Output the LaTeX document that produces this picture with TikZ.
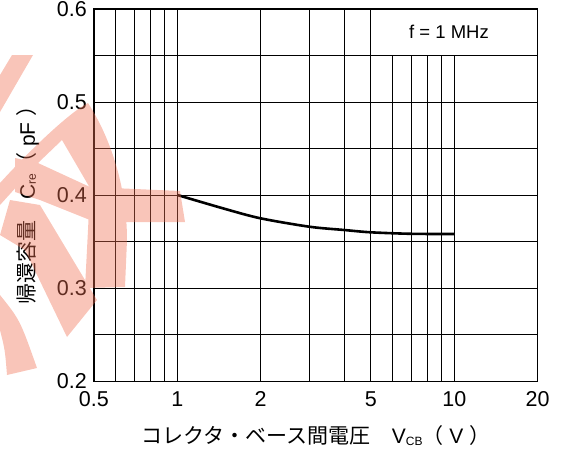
\documentclass[tikz,border=0pt]{standalone}
\usepackage{fontspec}
\setmainfont{Liberation Sans}
\newfontfamily\jpfont{Noto Sans CJK JP}
\definecolor{wmark}{RGB}{240,110,80}
% data -> picture (1 unit = 1px, y down)
\newcommand{\vx}[1]{177.3+277*log10(#1)}
\newcommand{\cy}[1]{381.5-931.25*(#1-0.2)}
\newcommand{\subs}[1]{\raisebox{-0.1ex}{\fontsize{12}{13}\selectfont #1}}

\begin{document}
\begin{tikzpicture}[x=1pt,y=-1pt,
    grid/.style={line width=0.9pt},
    frame/.style={line width=1.4pt},
    curve/.style={line width=2.6pt},
    tick/.style={font=\fontsize{21.5}{23}\selectfont,inner sep=0pt}]
  \useasboundingbox (0,0) rectangle (564,455);

  \foreach \v in {0.6,0.7,0.8,0.9,1,2,3,4,5}
    \draw[grid] ({\vx{\v}},{\cy{0.2}}) -- ({\vx{\v}},{\cy{0.6}});
  \foreach \v in {6,7,8,9,10}
    \draw[grid] ({\vx{\v}},{\cy{0.2}}) -- ({\vx{\v}},{\cy{0.55}});
  \foreach \c in {0.25,0.3,0.35,0.4,0.45,0.5,0.55}
    \draw[grid] ({\vx{0.5}},{\cy{\c}}) -- ({\vx{20}},{\cy{\c}});
  \draw[frame] ({\vx{0.5}},{\cy{0.2}}) rectangle ({\vx{20}},{\cy{0.6}});

  \draw[curve] plot[smooth] coordinates {({\vx{1}},{\cy{0.4003}}) ({\vx{1.5}},{\cy{0.3850}})
    ({\vx{2}},{\cy{0.3752}}) ({\vx{3}},{\cy{0.3662}}) ({\vx{4}},{\cy{0.3627}})
    ({\vx{5}},{\cy{0.3602}}) ({\vx{7}},{\cy{0.3586}}) ({\vx{10}},{\cy{0.3584}})};

  \foreach \c/\n in {0.2/02,0.3/03,0.4/04,0.5/05,0.6/06}
    \node[tick,anchor=east] (y\n) at (87,{\cy{\c}}) {\c};
  \foreach \v/\n in {0.5/05,1/1,2/2,5/5,10/10,20/20}
    \node[tick] (x\n) at ({\vx{\v}},399) {\v};

  \node[font=\fontsize{18.5}{20}\selectfont] (freq) at (449,32) {f = 1 MHz};
  \node[font=\fontsize{21}{23}\selectfont] (xtitle) at (316,436)
    {{\jpfont コレクタ・ベース間電圧　}V\subs{CB}{\jpfont （} V {\jpfont ）}};
  \node[font=\fontsize{21}{23}\selectfont,rotate=90] (ytitle) at (28,200)
    {{\jpfont 帰還容量　}C\subs{re}{\jpfont （} pF {\jpfont ）}};

  % watermark strokes
  \begin{scope}[transparency group,opacity=0.4]
    \fill[wmark] (12,55) -- (33,55) -- (0,112) -- (0,75) -- cycle;
    \fill[wmark] (0,183) .. controls (30,150) and (70,112) .. (88,103)
      .. controls (112,140) and (127,190) .. (127,240) -- (125,287) -- (85,288)
      -- (88,230) -- (90,188) -- (62,140) -- (38,163) -- (0,205) -- cycle;
    \fill[wmark] (15,158) -- (38,163) -- (90,187) -- (180,191) -- (185,222)
      -- (95,222) -- (40,200) -- (15,192) -- cycle;
    \fill[wmark] (10,200) -- (40,205) -- (97,300) -- (67,337) -- (25,250)
      -- (0,235) -- cycle;
    \fill[wmark] (0,295) .. controls (20,320) .. (37,368) -- (7,375)
      .. controls (5,350) .. (0,330) -- cycle;
  \end{scope}
\end{tikzpicture}
\end{document}
